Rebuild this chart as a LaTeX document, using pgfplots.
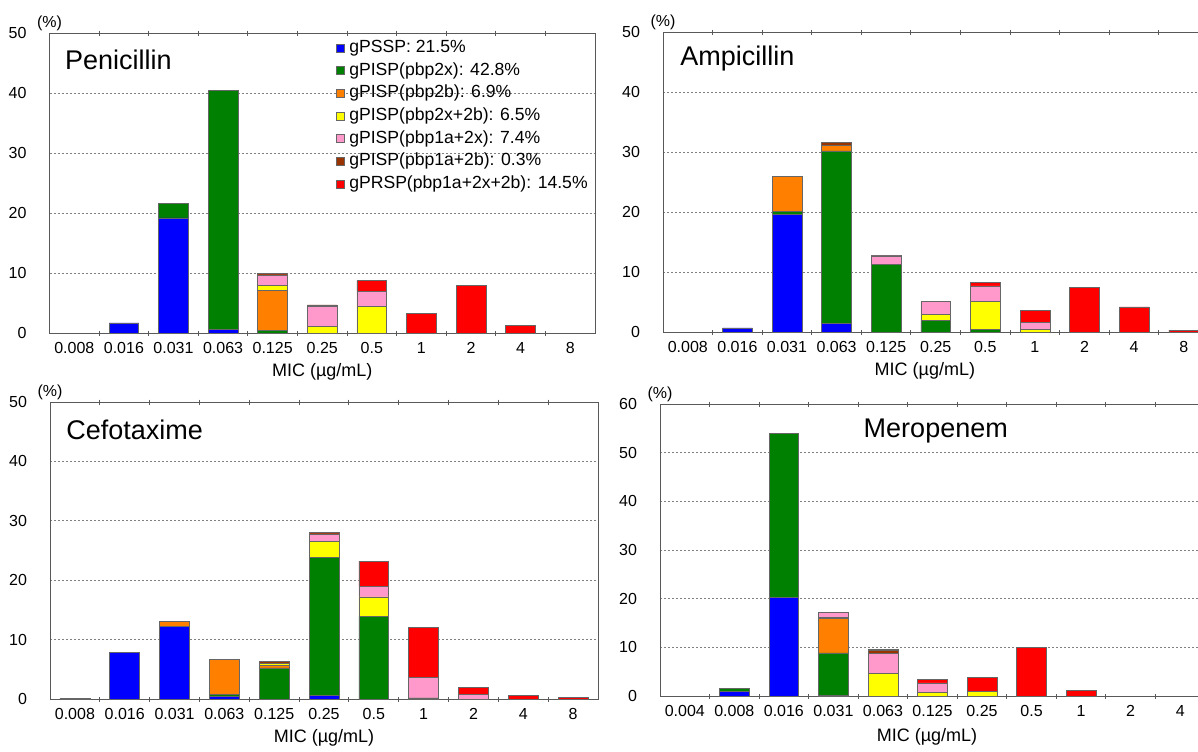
\documentclass[border=0pt]{standalone}
\usepackage{fontspec}
\setmainfont{Liberation Sans}
\usepackage{pgfplots}
\usepackage{pgfplotstable}
\pgfplotsset{compat=1.18}

\definecolor{cpssp}{RGB}{0,0,255}
\definecolor{ctwox}{RGB}{0,128,0}
\definecolor{ctwob}{RGB}{255,128,0}
\definecolor{cxb}{RGB}{255,255,0}
\definecolor{cax}{RGB}{255,153,204}
\definecolor{cab}{RGB}{153,51,0}
\definecolor{cprsp}{RGB}{255,0,0}

% % of isolates per MIC class, stacked by genotype
\pgfplotstableread{
x  pssp  twox  twob  xb   ax    ab   prsp
0  0     0     0     0    0     0    0
1  1.7   0     0     0    0     0    0
2  19.2  2.4   0     0    0     0    0
3  0.6   39.8  0     0    0     0.1  0
4  0     0.5   6.7   0.8  1.7   0.3  0
5  0     0     0     1.1  3.3   0.3  0
6  0     0     0     4.5  2.4   0    1.85
7  0     0     0     0    0     0    3.3
8  0     0     0     0    0     0    8.0
9  0     0     0     0    0     0    1.3
10 0     0     0     0    0     0    0
}\pen

\pgfplotstableread{
x  pssp  twox  twob  xb   ax    ab   prsp
0  0     0     0     0    0     0    0
1  0.7   0     0     0    0     0    0
2  19.6  0.5   5.9   0    0     0    0
3  1.5   28.7  0.9   0    0     0.5  0
4  0     11.3  0     0    1.4   0.1  0
5  0     1.9   0     1.1  2.05  0    0
6  0     0.5   0     4.6  2.6   0    0.55
7  0     0     0     0.4  1.2   0    2.0
8  0     0     0     0    0     0    7.4
9  0     0     0     0    0     0    4.2
10 0     0     0     0    0     0    0.3
}\amp

\pgfplotstableread{
x  pssp  twox  twob  xb   ax    ab   prsp
0  0.1   0     0     0    0     0    0
1  7.9   0     0     0    0     0    0
2  12.2  0     0.8   0    0     0    0
3  0.5   0.3   5.9   0    0     0    0
4  0     5.25  0.45  0.3  0     0.3  0
5  0.55  23.3  0     2.75 1.2   0.2  0
6  0     13.9  0     3.3  1.8   0    4.2
7  0     0.2   0     0    3.4   0    8.5
8  0     0     0     0    0.8   0    1.2
9  0     0     0     0    0     0    0.55
10 0     0     0     0    0     0    0.3
}\cef

\pgfplotstableread{
x  pssp  twox  twob  xb   ax    ab   prsp
0  0     0     0     0    0     0    0
1  0.9   0.65  0     0    0     0    0
2  20.3  33.6  0     0    0     0    0
3  0.1   8.75  7.1   0.25 1.0   0    0
4  0     0     0     4.6  4.2   0.5  0.2
5  0     0     0     0.7  2.0   0    0.7
6  0     0     0     1.0  0     0    2.8
7  0     0     0     0    0     0    10.0
8  0     0     0     0    0     0    1.2
9  0     0     0     0    0     0    0
10 0     0     0     0    0     0    0
}\mer

\newcommand{\stackbars}[1]{%
  \addplot[fill=cpssp] table[x=x,y=pssp]{#1};
  \addplot[fill=ctwox] table[x=x,y=twox]{#1};
  \addplot[fill=ctwob] table[x=x,y=twob]{#1};
  \addplot[fill=cxb]   table[x=x,y=xb]{#1};
  \addplot[fill=cax]   table[x=x,y=ax]{#1};
  \addplot[fill=cab]   table[x=x,y=ab]{#1};
  \addplot[fill=cprsp] table[x=x,y=prsp]{#1};
}

\tikzset{
  pct/.style={font=\fontsize{8}{9}\selectfont},
  ttl/.style={font=\fontsize{13.5}{15}\selectfont, inner sep=0pt},
}

\pgfplotsset{
  mic/.style={
    scale only axis, anchor=south west, clip=false,
    ybar stacked, bar width=0.6,
    xmin=-0.5, xmax=10.5, ymin=0,
    xtick={0,...,10},
    minor xtick={0.5,1.5,...,9.5},
    major tick length=0pt, minor tick length=2.5pt, xtick align=center,
    every axis plot/.append style={draw=black!60, line width=0.3pt},
    axis line style={black!65, line width=0.5pt},
    minor tick style={black!65, line width=0.5pt},
    ymajorgrids,
    major grid style={gray, dash pattern=on 1.2pt off 0.8pt, line width=0.4pt},
    /pgf/number format/assume math mode=true,
    tick label style={font=\fontsize{8}{9}\selectfont},
    yticklabel style={xshift=-8pt},
    xticklabel style={yshift=-1pt},
    xlabel={MIC (µg/mL)},
    x label style={at={(rel axis cs:0.5,0)}, anchor=center, yshift=-19.5pt,
      font=\fontsize{9}{10}\selectfont},
  },
}

\begin{document}
\begin{tikzpicture}
\useasboundingbox (0,0) rectangle (599pt,-375.5pt);
\clip (0,0) rectangle (599pt,-375.5pt);

\begin{axis}[mic, at={(24.75pt,-166.5pt)}, width=272.75pt, height=150pt,
  ymax=50, ytick={0,10,...,50},
  xticklabels={0.008,0.016,0.031,0.063,0.125,0.25,0.5,1,2,4,8},
  legend style={at={(rel axis cs:0.991,0.987)}, anchor=north east,
    draw=none, fill=none, font=\fontsize{8.8}{10}\selectfont,
    row sep=0.85pt, inner sep=0pt,
    nodes={inner sep=1pt, text height=6.5pt, text depth=2pt}},
  legend cell align=left,
  legend image code/.code={\draw[#1, draw=black!60, line width=0.3pt] (0pt,-2pt) rectangle (4pt,2pt);
    \path (5.2pt,0pt);},
]
\stackbars{\pen}
\legend{gPSSP: 21.5\%, gPISP(pbp2x): 42.8\%, gPISP(pbp2b): 6.9\%,
  gPISP(pbp2x+2b): 6.5\%, gPISP(pbp1a+2x): 7.4\%, gPISP(pbp1a+2b): 0.3\%,
  gPRSP(pbp1a+2x+2b): 14.5\%}
\node[ttl, anchor=west] at (rel axis cs:0.028,0.909) {Penicillin};
\node[pct] at (rel axis cs:0,1) [yshift=5pt] {(\%)};
\end{axis}

\begin{axis}[mic, at={(331.5pt,-166pt)}, width=272.75pt, height=150pt,
  ymax=50, ytick={0,10,...,50},
  xticklabels={0.008,0.016,0.031,0.063,0.125,0.25,0.5,1,2,4,8},
  x label style={at={(rel axis cs:0.48,0)}},
]
\stackbars{\amp}
\node[ttl, anchor=west] at (rel axis cs:0.031,0.911) {Ampicillin};
\node[pct] at (rel axis cs:0,1) [yshift=5pt] {(\%)};
\end{axis}

\begin{axis}[mic, at={(25pt,-349.5pt)}, width=274pt, height=148.5pt,
  ymax=50, ytick={0,10,...,50},
  xticklabels={0.008,0.016,0.031,0.063,0.125,0.25,0.5,1,2,4,8},
]
\stackbars{\cef}
\node[ttl, anchor=west] at (rel axis cs:0.029,0.907) {Cefotaxime};
\node[pct] at (rel axis cs:0,1) [yshift=5pt] {(\%)};
\end{axis}

\begin{axis}[mic, at={(330pt,-348pt)}, width=272.5pt, height=146pt,
  ymax=60, ytick={0,10,...,60},
  xticklabels={0.004,0.008,0.016,0.031,0.063,0.125,0.25,0.5,1,2,4},
  x label style={at={(rel axis cs:0.49,0)}, yshift=-1pt},
]
\stackbars{\mer}
\node[ttl] at (rel axis cs:0.506,0.908) {Meropenem};
\node[pct] at (rel axis cs:0,1) [yshift=5pt] {(\%)};
\end{axis}
\end{tikzpicture}
\end{document}
